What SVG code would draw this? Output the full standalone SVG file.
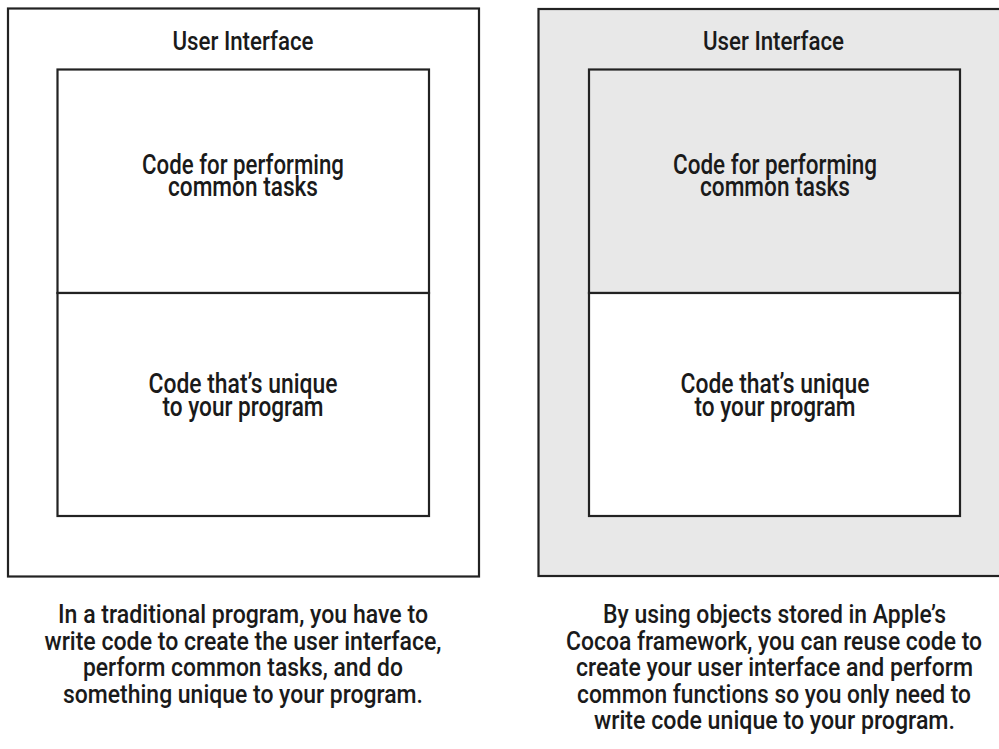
<svg xmlns="http://www.w3.org/2000/svg" width="999" height="749" viewBox="0 0 999 749">
<style>
.box{stroke:#222;stroke-width:2.2;}
.t{font-family:Roboto,"Liberation Sans",Arial,sans-serif;font-weight:500;font-size:25px;fill:#1a1a1a;text-anchor:middle;}
.b{font-size:27px;}
</style>
<rect width="999" height="749" fill="#fff"/>
<g id="left-panel">
  <rect class="box" x="8" y="8.5" width="471" height="568" fill="#fff"/>
  <text class="t" x="243" y="50" textLength="141" lengthAdjust="spacingAndGlyphs">User Interface</text>
  <g id="left-common">
    <rect class="box" x="57.5" y="69.5" width="371.5" height="223.5" fill="#fff"/>
    <text class="t b" x="243" y="173.5" textLength="202" lengthAdjust="spacingAndGlyphs">Code for performing</text>
    <text class="t b" x="243" y="196" textLength="150" lengthAdjust="spacingAndGlyphs">common tasks</text>
  </g>
  <g id="left-unique">
    <rect class="box" x="57.5" y="293" width="371.5" height="223" fill="#fff"/>
    <text class="t b" x="243" y="393" textLength="189" lengthAdjust="spacingAndGlyphs">Code that’s unique</text>
    <text class="t b" x="243" y="415.5" textLength="161" lengthAdjust="spacingAndGlyphs">to your program</text>
  </g>
  <g id="left-caption">
    <text class="t" x="243" y="623" textLength="370" lengthAdjust="spacingAndGlyphs">In a traditional program, you have to</text>
    <text class="t" x="243" y="649.5" textLength="397" lengthAdjust="spacingAndGlyphs">write code to create the user interface,</text>
    <text class="t" x="243" y="676" textLength="320" lengthAdjust="spacingAndGlyphs">perform common tasks, and do</text>
    <text class="t" x="243" y="702.5" textLength="360" lengthAdjust="spacingAndGlyphs">something unique to your program.</text>
  </g>
</g>
<g id="right-panel">
  <rect class="box" x="538.5" y="9" width="480" height="567" fill="#e8e8e8"/>
  <text class="t" x="773.5" y="50" textLength="141" lengthAdjust="spacingAndGlyphs">User Interface</text>
  <g id="right-common">
    <rect class="box" x="589" y="69.5" width="371" height="223.5" fill="#e8e8e8"/>
    <text class="t b" x="775" y="173.5" textLength="204" lengthAdjust="spacingAndGlyphs">Code for performing</text>
    <text class="t b" x="775" y="196" textLength="150" lengthAdjust="spacingAndGlyphs">common tasks</text>
  </g>
  <g id="right-unique">
    <rect class="box" x="589" y="293" width="371" height="223" fill="#fff"/>
    <text class="t b" x="775" y="393" textLength="189" lengthAdjust="spacingAndGlyphs">Code that’s unique</text>
    <text class="t b" x="775" y="415.5" textLength="161" lengthAdjust="spacingAndGlyphs">to your program</text>
  </g>
  <g id="right-caption">
    <text class="t" x="774.5" y="623" textLength="343" lengthAdjust="spacingAndGlyphs">By using objects stored in Apple’s</text>
    <text class="t" x="774" y="649.5" textLength="416" lengthAdjust="spacingAndGlyphs">Cocoa framework, you can reuse code to</text>
    <text class="t" x="774.5" y="676" textLength="397" lengthAdjust="spacingAndGlyphs">create your user interface and perform</text>
    <text class="t" x="774" y="702.5" textLength="394" lengthAdjust="spacingAndGlyphs">common functions so you only need to</text>
    <text class="t" x="774.5" y="729" textLength="361" lengthAdjust="spacingAndGlyphs">write code unique to your program.</text>
  </g>
</g>
<g id="connectors"></g>
</svg>
